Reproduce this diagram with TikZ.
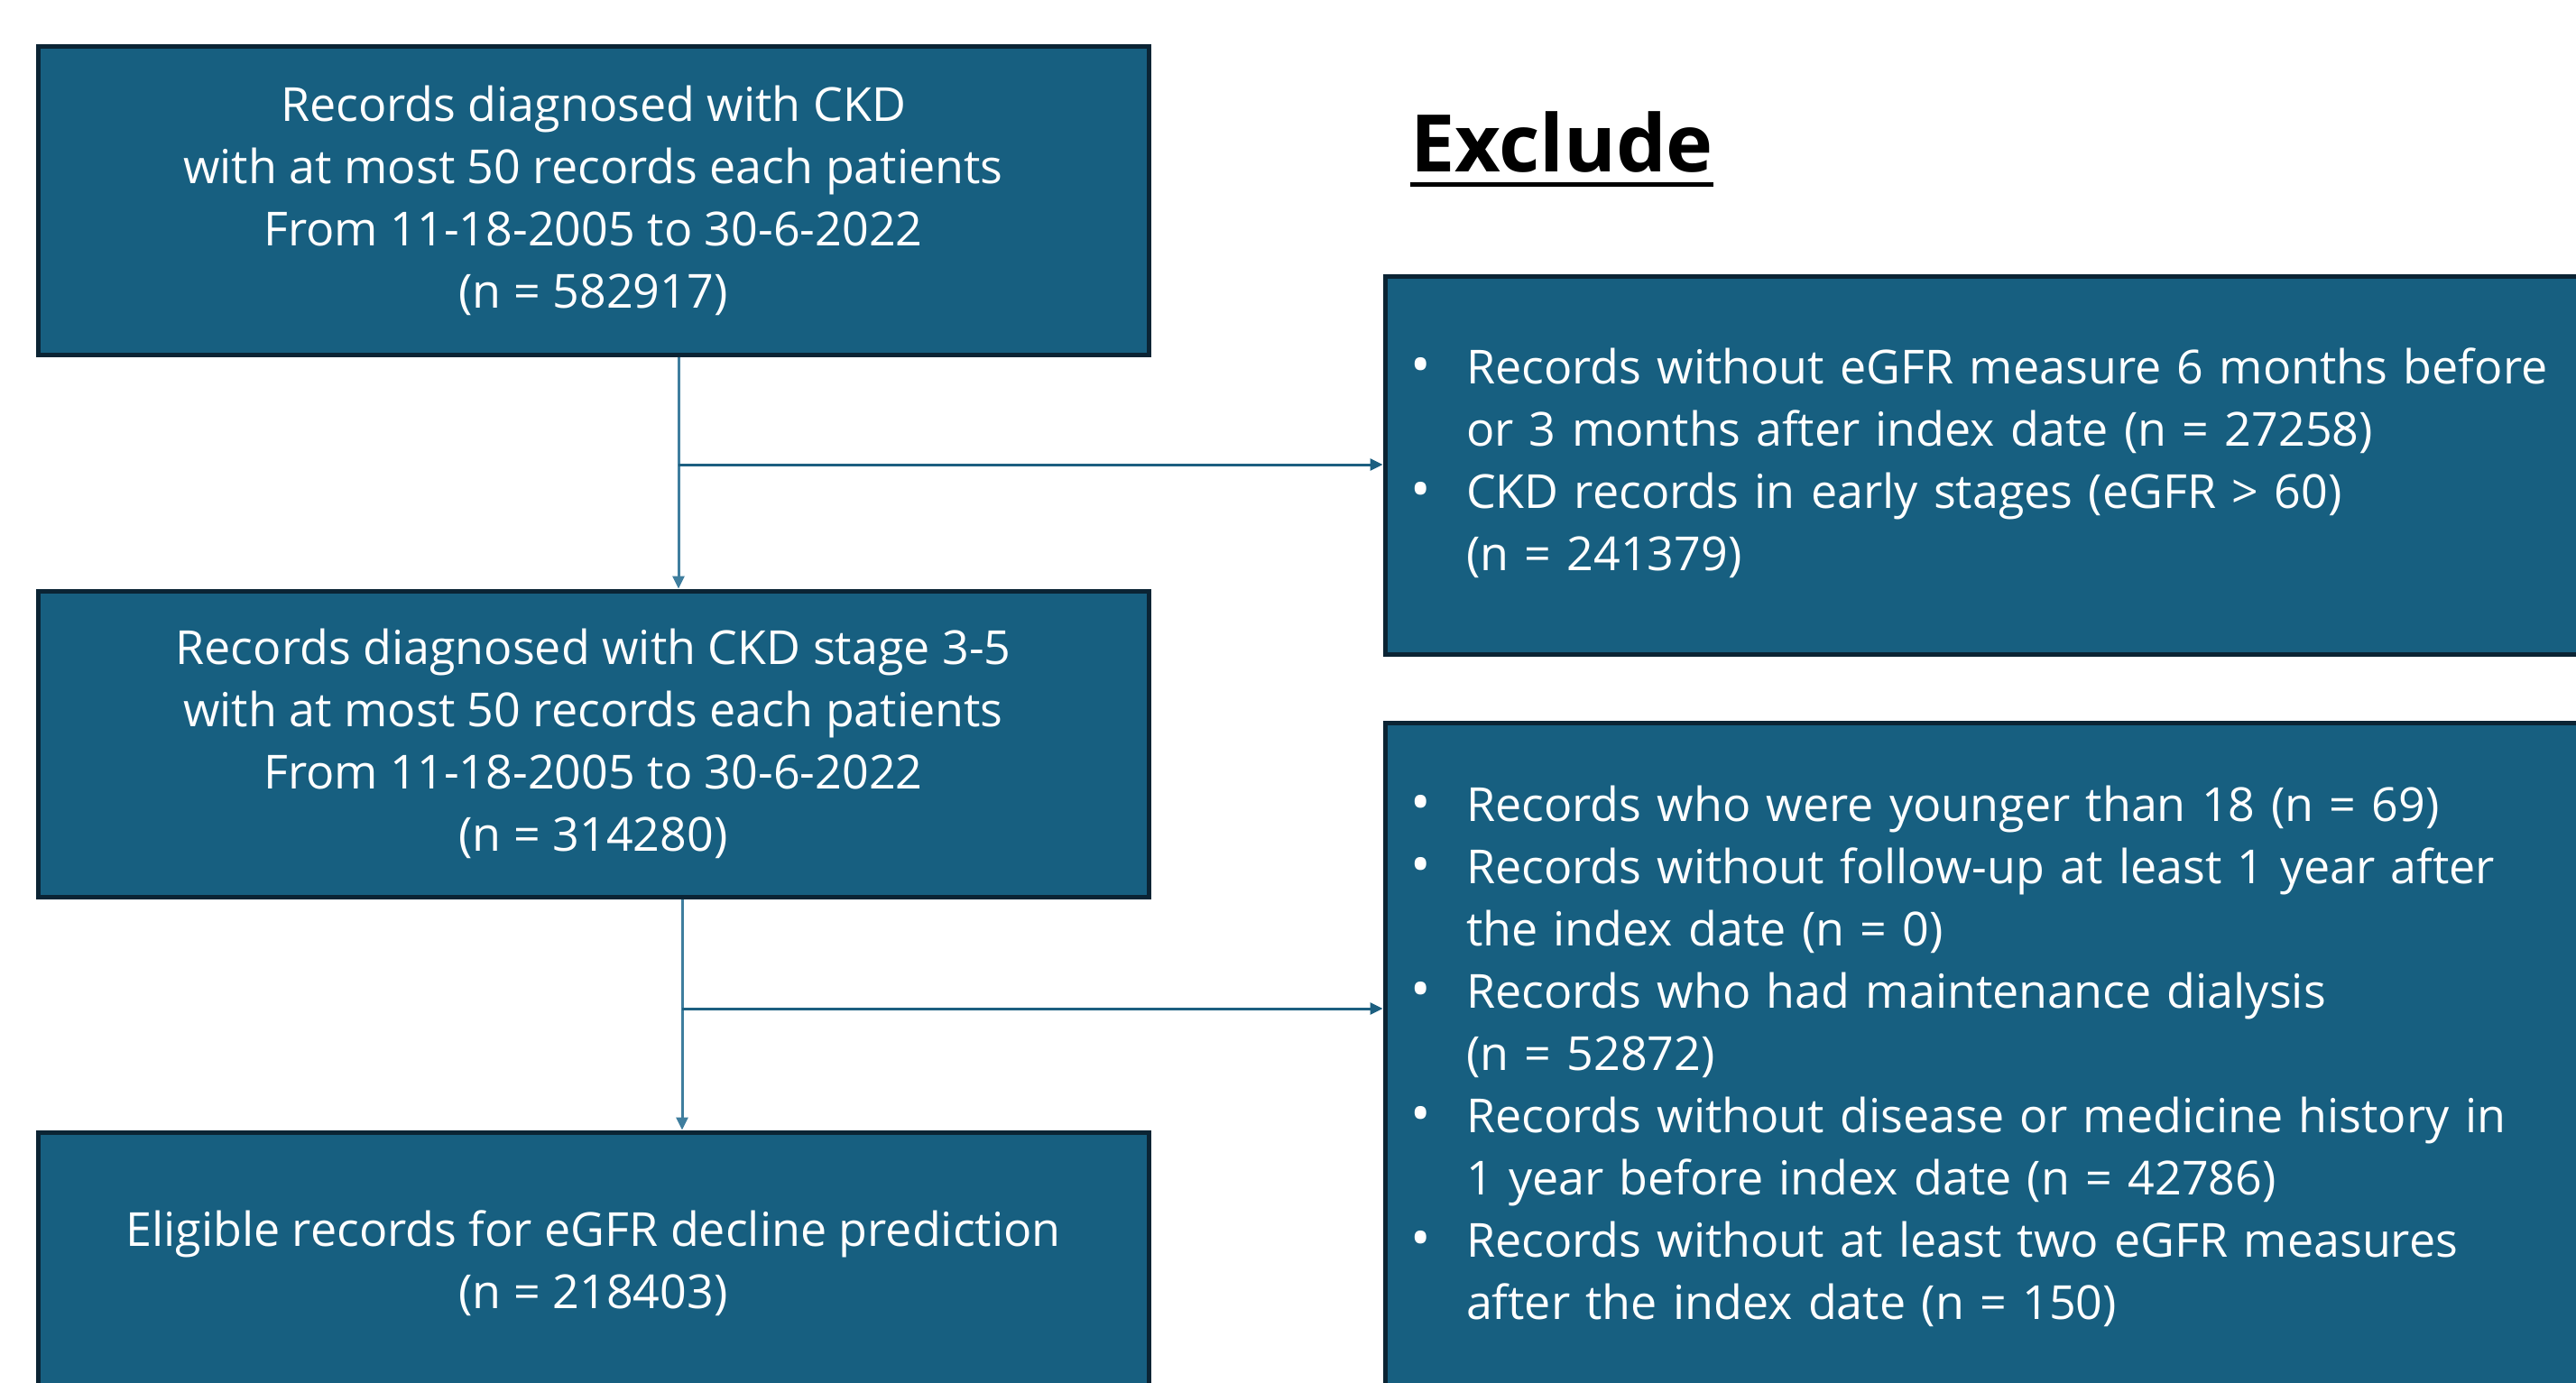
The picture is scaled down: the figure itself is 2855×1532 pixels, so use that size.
\documentclass[tikz,border=0pt]{standalone}
\usepackage{fontspec}
\setmainfont{Open Sans}
\usetikzlibrary{arrows.meta}
\definecolor{boxfill}{HTML}{175F80}
\definecolor{boxline}{HTML}{0B2434}
\definecolor{vline}{HTML}{3F7E9E}
\definecolor{hline}{HTML}{1C5F80}
\tikzset{
  flowbox/.style={draw=boxline, line width=5pt, fill=boxfill, text=white,
    align=center, inner sep=0pt, font=\fontsize{52}{69}\selectfont},
  exbox/.style={draw=boxline, line width=5pt, fill=boxfill, text=white,
    align=left, inner xsep=28pt, inner ysep=0pt, font=\fontsize{52}{69}\selectfont},
  downarrow/.style={draw=vline, line width=3pt, -{Triangle[length=14pt,width=13pt]}},
  sidearrow/.style={draw=hline, line width=3pt, -{Triangle[length=14pt,width=13pt]}},
}
\newcommand{\bul}{\makebox[62pt][l]{\scalebox{1.15}{\textbullet}}}
\begin{document}
\begin{tikzpicture}[x=1pt,y=-1pt]
\useasboundingbox[fill=white] (0,0) rectangle (2855,1532);
\begin{scope}
\clip (0,0) rectangle (2855,1532);
\node[flowbox, minimum width=1231pt, minimum height=342pt] (b1) at (657.5,222)
  {Records diagnosed with CKD\\with at most 50 records each patients\\From 11-18-2005 to 30-6-2022\\(n = 582917)};
\node[flowbox, minimum width=1231pt, minimum height=339pt] (b2) at (657.5,824.5)
  {Records diagnosed with CKD stage 3-5\\with at most 50 records each patients\\From 11-18-2005 to 30-6-2022\\(n = 314280)};
\node[flowbox, minimum width=1231pt, minimum height=290pt] (b3) at (657.5,1400)
  {Eligible records for eGFR decline prediction\\(n = 218403)};
\node[exbox, text width=1314pt, minimum height=419pt] (r1) at (2220,515.5)
  {\begin{tabular}{@{}l@{}l@{}}
   \bul & Records without eGFR measure 6 months before\\
        & or 3 months after index date (n = 27258)\\
   \bul & CKD records in early stages (eGFR > 60)\\
        & (n = 241379)
   \end{tabular}};
\node[exbox, text width=1314pt, minimum height=744pt] (r2) at (2220,1173)
  {\begin{tabular}{@{}l@{}l@{}}
   \bul & Records who were younger than 18 (n = 69)\\
   \bul & Records without follow-up at least 1 year after\\
        & the index date (n = 0)\\
   \bul & Records who had maintenance dialysis\\
        & (n = 52872)\\
   \bul & Records without disease or medicine history in\\
        & 1 year before index date (n = 42786)\\
   \bul & Records without at least two eGFR measures\\
        & after the index date (n = 150)
   \end{tabular}};
\node[inner sep=0pt, font=\fontsize{88}{100}\selectfont\bfseries, anchor=base] (ex) at (1731,190) {Exclude};
\draw[line width=5pt] ([yshift=-14pt]ex.base west) -- ([yshift=-14pt]ex.base east);
\coordinate (x1) at (752,0);
\coordinate (x2) at (756,0);
\coordinate (j1) at (752,515);
\coordinate (j2) at (756,1118);
\draw[downarrow] (b1.south -| x1) -- (b2.north -| x1);
\draw[downarrow] (b2.south -| x2) -- (b3.north -| x2);
\draw[sidearrow] (j1) -- (j1 -| r1.west);
\draw[sidearrow] (j2) -- (j2 -| r2.west);
\end{scope}
\end{tikzpicture}
\end{document}
